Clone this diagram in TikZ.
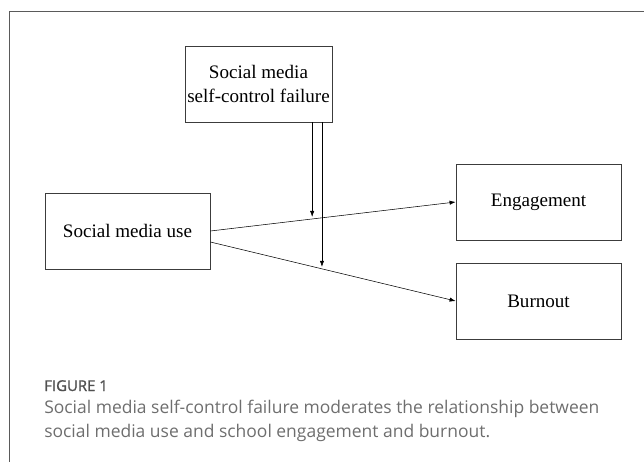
\documentclass[tikz,border=0pt]{standalone}
\usepackage{fontspec}
\setmainfont{Liberation Serif}
\newfontfamily\capfont{Open Sans}
\newfontfamily\figfont[FakeBold=1.2]{Open Sans}
\usepackage{xcolor}
\usetikzlibrary{positioning,arrows.meta,calc}
\definecolor{uFrame}{HTML}{5A5A5A}
\definecolor{uBox}{HTML}{3C3C3C}
\definecolor{uCap}{HTML}{6E6E6E}
\definecolor{uFig}{HTML}{505050}
\tikzset{
  var/.style={draw=uBox, semithick, align=center, font=\fontsize{14.3}{18}\selectfont,
              minimum width=123.75pt, minimum height=57pt, inner sep=0pt},
  path/.style={-{Latex[length=4.5pt, width=3.2pt]}, thin},
  capt/.style={font=\capfont\fontsize{13.1}{18}\selectfont, text=uCap,
               anchor=base west, inner sep=0pt},
}

\begin{document}
\begin{tikzpicture}[x=0.75pt, y=-0.75pt]

\useasboundingbox (0,0) rectangle (644,462);

%% ── frame round the figure, open to the right and below ────────────────
\draw[uFrame, thin] (644,11) -- (9,11) -- (9,462);

%% ── the four variables ──────────────────────────────────────────────────
\node[var, minimum width=110.25pt] (mod) at (258.5,84)
  {Social media\\self-control failure};
\node[var] (use)  at (127.5,231) {Social media use};
\node[var] (eng)  at (538.5,202) {Engagement};
\node[var] (burn) at (538.5,301) {Burnout};

%% ── direct paths ────────────────────────────────────────────────────────
\coordinate (o1) at ($(use.east)+(0,0)$);
\coordinate (o2) at ($(use.east)+(0,11)$);
\draw[path] (o1) -- (eng.west);
\draw[path] (o2) -- (burn.west);

%% ── moderation: down onto each path ─────────────────────────────────────
\coordinate (m1) at ($(o1)!0.415!(eng.west)+(0,-2)$);
\coordinate (m2) at ($(o2)!0.455!(burn.west)+(0,-2)$);
\draw[path] (m1 |- mod.south) -- (m1);
\draw[path] (m2 |- mod.south) -- (m2);

%% ── caption ─────────────────────────────────────────────────────────────
\node[capt, font=\figfont\fontsize{11.2}{12}\selectfont, text=uFig] (fig) at (44,391) {FIGURE 1};
\node[capt] (cap1) at (44,413)
  {Social media self-control failure moderates the relationship between};
\node[capt] (cap2) at (44,437)
  {social media use and school engagement and burnout.};

\end{tikzpicture}
\end{document}
